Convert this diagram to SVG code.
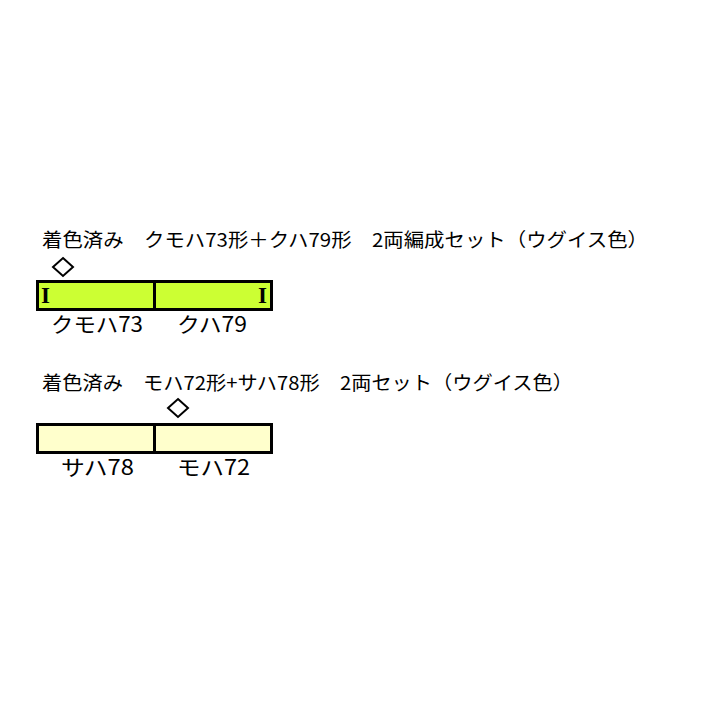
<svg xmlns="http://www.w3.org/2000/svg" width="718" height="718" viewBox="0 0 718 718">
<style>
text{font-family:"Noto Sans CJK JP","Liberation Sans",sans-serif;fill:#000;font-size:19px}
.lbl{font-size:21px}
.car{stroke:#000;stroke-width:3}
.g{fill:#ccff33}
.y{fill:#ffffcc}
.dia{fill:#fff;stroke:#000;stroke-width:2}
.mark{font-family:"Liberation Serif",serif;font-weight:bold;font-size:23px}
</style>
<rect width="718" height="718" fill="#fff"/>
<g id="title1"><text x="42" y="247" textLength="606" lengthAdjust="spacingAndGlyphs">着色済み　クモハ73形＋クハ79形　2両編成セット（ウグイス色）</text></g>
<g id="set1">
<path class="dia" d="M63 258 L73 267 L63 276 L53 267 Z"/>
<rect class="car g" x="37.5" y="281.5" width="117" height="28"/>
<rect class="car g" x="154.5" y="281.5" width="117" height="28"/>
<text class="mark" x="41" y="303">I</text>
<text class="mark" x="258" y="303">I</text>
<text class="lbl" x="51" y="332" textLength="92" lengthAdjust="spacingAndGlyphs">クモハ73</text>
<text class="lbl" x="177" y="332" textLength="70" lengthAdjust="spacingAndGlyphs">クハ79</text>
</g>
<g id="title2"><text x="42" y="390" textLength="531" lengthAdjust="spacingAndGlyphs">着色済み　モハ72形+サハ78形　2両セット（ウグイス色）</text></g>
<g id="set2">
<path class="dia" d="M178 399 L188 408 L178 417 L168 408 Z"/>
<rect class="car y" x="37.5" y="424.5" width="117" height="28"/>
<rect class="car y" x="154.5" y="424.5" width="117" height="28"/>
<text class="lbl" x="61" y="475" textLength="73" lengthAdjust="spacingAndGlyphs">サハ78</text>
<text class="lbl" x="177" y="475" textLength="73" lengthAdjust="spacingAndGlyphs">モハ72</text>
</g>
</svg>
